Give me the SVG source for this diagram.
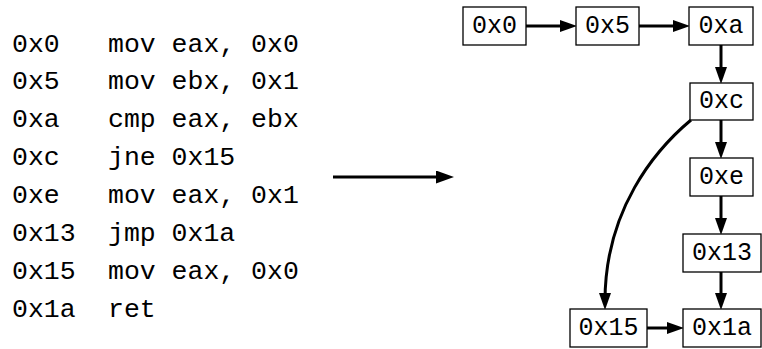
<svg xmlns="http://www.w3.org/2000/svg" width="762" height="349" viewBox="0 0 762 349">
<defs>
<style>
.code{font-family:"Liberation Mono","DejaVu Sans Mono",monospace;font-size:26.5px;fill:#000}
.box rect{fill:#fff;stroke:#000;stroke-width:1.3}
.box text{font-family:"Liberation Mono","DejaVu Sans Mono",monospace;font-size:25px;fill:#000;text-anchor:middle;dominant-baseline:central}
.edge{fill:none;stroke:#000;stroke-width:3}
</style>
<marker id="ah" markerUnits="userSpaceOnUse" markerWidth="17" markerHeight="12" viewBox="0 0 17 12" refX="8" refY="6" orient="auto">
<path d="M0,0 L17,6 L0,12 z" fill="#000"/>
</marker>
<marker id="ah2" markerUnits="userSpaceOnUse" markerWidth="18" markerHeight="13" viewBox="0 0 18 13" refX="8" refY="6.5" orient="auto">
<path d="M0,0 L18,6.5 L0,13 z" fill="#000"/>
</marker>
</defs>
<rect width="762" height="349" fill="#fff"/>
<g id="listing">
<text class="code" x="12" y="51.5">0x0</text><text class="code" x="108" y="51.5">mov eax, 0x0</text>
<text class="code" x="12" y="89.4">0x5</text><text class="code" x="108" y="89.4">mov ebx, 0x1</text>
<text class="code" x="12" y="127.2">0xa</text><text class="code" x="108" y="127.2">cmp eax, ebx</text>
<text class="code" x="12" y="165.1">0xc</text><text class="code" x="108" y="165.1">jne 0x15</text>
<text class="code" x="12" y="202.9">0xe</text><text class="code" x="108" y="202.9">mov eax, 0x1</text>
<text class="code" x="12" y="240.8">0x13</text><text class="code" x="108" y="240.8">jmp 0x1a</text>
<text class="code" x="12" y="278.7">0x15</text><text class="code" x="108" y="278.7">mov eax, 0x0</text>
<text class="code" x="12" y="316.5">0x1a</text><text class="code" x="108" y="316.5">ret</text>
</g>
<g id="connectors">
<path class="edge" d="M333,177 L444,177" marker-end="url(#ah2)"/>
<path class="edge" d="M526,26 L568,26" marker-end="url(#ah)"/>
<path class="edge" d="M639,26 L681,26" marker-end="url(#ah)"/>
<path class="edge" d="M721,45 L721,75" marker-end="url(#ah)"/>
<path class="edge" d="M721,120 L721,150" marker-end="url(#ah)"/>
<path class="edge" d="M721,196 L721,226" marker-end="url(#ah)"/>
<path class="edge" d="M721,272 L721,301" marker-end="url(#ah)"/>
<path class="edge" d="M647,328 L675,328" marker-end="url(#ah)"/>
<path class="edge" d="M691,120 C655,150 605,210 605,301" marker-end="url(#ah)"/>
</g>
<g id="n0x0" class="box"><rect x="463" y="7" width="63" height="38"/><text x="494.5" y="26">0x0</text></g>
<g id="n0x5" class="box"><rect x="576" y="7" width="63" height="38"/><text x="607.5" y="26">0x5</text></g>
<g id="n0xa" class="box"><rect x="689" y="7" width="64" height="38"/><text x="721" y="26">0xa</text></g>
<g id="n0xc" class="box"><rect x="690" y="83" width="63" height="37"/><text x="721.5" y="101.5">0xc</text></g>
<g id="n0xe" class="box"><rect x="690" y="158" width="63" height="38"/><text x="721.5" y="177">0xe</text></g>
<g id="n0x13" class="box"><rect x="683" y="234" width="78" height="38"/><text x="722" y="253">0x13</text></g>
<g id="n0x15" class="box"><rect x="570" y="309" width="77" height="38"/><text x="608.5" y="328">0x15</text></g>
<g id="n0x1a" class="box"><rect x="683" y="309" width="78" height="38"/><text x="722" y="328">0x1a</text></g>
</svg>
